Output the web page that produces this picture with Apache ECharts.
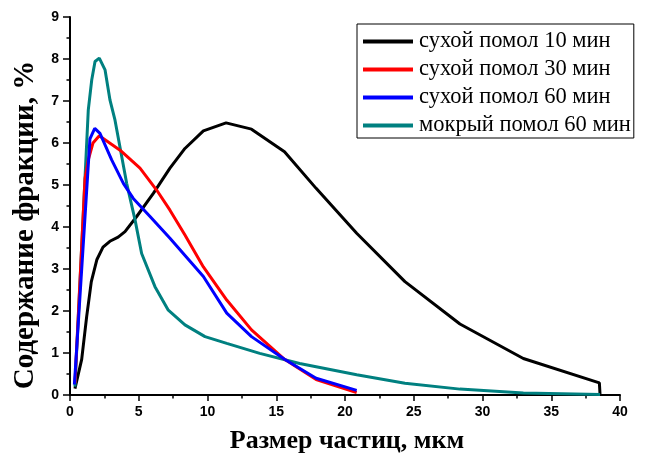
<!DOCTYPE html>
<html><head><meta charset="utf-8">
<script src="https://cdn.jsdelivr.net/npm/echarts@6/dist/echarts.min.js"></script>
<style>html,body{margin:0;padding:0;background:#fff}#c{width:648px;height:456px}</style>
</head><body><div id="c"></div>
<script>
const seriesNames = ['сухой помол 10 мин','сухой помол 30 мин','сухой помол 60 мин','мокрый помол 60 мин'];
const xTitle = 'Размер частиц, мкм';
const yTitle = 'Содержание фракции, %';
const xTicks = [0,5,10,15,20,25,30,35,40];
const yTicks = [0,1,2,3,4,5,6,7,8,9];

const dry10X = [0.36,0.85,1.21,1.55,1.95,2.4,2.9,3.5,4.0,4.85,6.06,7.27,8.36,9.7,11.35,13.2,15.6,17.9,20.85,24.36,28.36,32.97,38.5,38.55];
const dry10Y = [0.15,0.85,1.86,2.7,3.22,3.52,3.66,3.76,3.89,4.25,4.8,5.4,5.87,6.29,6.48,6.33,5.79,4.92,3.85,2.70,1.69,0.87,0.29,0.0];

const dry30X = [0.36,1.09,1.33,1.67,2.13,3.64,5.09,6.3,7.27,8.36,9.7,11.4,13.2,15.6,17.9,20.85];
const dry30Y = [0.28,5.15,5.6,6.0,6.17,5.83,5.4,4.88,4.4,3.81,3.05,2.26,1.55,0.85,0.37,0.06];

const dry60X = [0.32,1.45,1.8,2.18,3.03,3.88,4.6,5.82,7.27,9.7,11.4,13.2,15.6,17.9,20.85];
const dry60Y = [0.25,6.1,6.35,6.23,5.6,5.04,4.68,4.25,3.73,2.82,1.95,1.39,0.85,0.4,0.11];

const wet60X = [0.36,1.33,1.58,1.82,2.13,2.55,2.91,3.27,4.12,4.73,5.21,6.18,7.15,8.36,9.82,11.4,13.8,16.7,20.85,24.36,28.36,32.97,38.55];
const wet60Y = [0.2,6.79,7.5,7.94,8.02,7.74,7.02,6.55,5.04,4.17,3.37,2.58,2.02,1.67,1.39,1.23,0.99,0.75,0.48,0.28,0.14,0.05,0.01];

const colors = ['#000000','#ff0000','#0000ff','#008080'];
const zip = (xs, ys) => xs.map((x, i) => [x, ys[i]]);
const allData = [zip(dry10X,dry10Y), zip(dry30X,dry30Y), zip(dry60X,dry60Y), zip(wet60X,wet60Y)];

const chart = echarts.init(document.getElementById('c'));
const serif = "'Liberation Serif','Times New Roman',serif";
const sans = "'Liberation Sans',Arial,sans-serif";
chart.setOption({
  animation: false,
  backgroundColor: '#fff',
  grid: {left: 70, right: 28, top: 17, bottom: 61, containLabel: false},
  legend: {
    orient: 'vertical', left: 357, top: 24,
    data: seriesNames,
    icon: 'rect', itemWidth: 50, itemHeight: 4, itemGap: 5,
    padding: [6, 3, 1, 6],
    borderColor: '#000', borderWidth: 1,
    textStyle: {fontFamily: serif, fontSize: 22.5, color: '#000', lineHeight: 23, padding: [0,0,0,1]}
  },
  graphic: [
    {type: 'text', x: 347, y: 441, silent: true,
     style: {text: xTitle, fontFamily: serif, fontSize: 26, fontWeight: 'bold', fill: '#000', textAlign: 'center', textVerticalAlign: 'middle'}},
    {type: 'text', x: 26, y: 225, rotation: Math.PI / 2, silent: true,
     style: {text: yTitle, fontFamily: serif, fontSize: 29, fontWeight: 'bold', fill: '#000', textAlign: 'center', textVerticalAlign: 'middle'}}
  ],
  xAxis: {
    type: 'value', min: 0, max: 40, interval: 5,
    axisLine: {onZero: false, lineStyle: {color: '#000', width: 2}},
    axisTick: {show: true, inside: false, length: 6, lineStyle: {color: '#000', width: 1.5}},
    minorTick: {show: true, splitNumber: 2, length: 3.5, lineStyle: {color: '#000', width: 1.5}},
    axisLabel: {fontFamily: sans, fontSize: 14, fontWeight: 'bold', color: '#000', margin: 10,
      formatter: v => xTicks.includes(v) ? String(v) : ''},
    splitLine: {show: false}
  },
  yAxis: {
    type: 'value', min: 0, max: 9, interval: 1,
    axisLine: {onZero: false, lineStyle: {color: '#000', width: 2}},
    axisTick: {show: true, inside: false, length: 7, lineStyle: {color: '#000', width: 1.5}},
    minorTick: {show: true, splitNumber: 2, length: 3.5, lineStyle: {color: '#000', width: 1.5}},
    axisLabel: {fontFamily: sans, fontSize: 14, fontWeight: 'bold', color: '#000', margin: 11,
      formatter: v => yTicks.includes(v) ? String(v) : ''},
    splitLine: {show: false}
  },
  series: seriesNames.map((n, i) => ({
    name: n, type: 'line', data: allData[i], showSymbol: false, symbol: 'none',
    lineStyle: {color: colors[i], width: 3}, itemStyle: {color: colors[i]},
    z: i === 0 ? 2 : 3 + (i===3?0:i)
  }))
});
</script></body></html>
